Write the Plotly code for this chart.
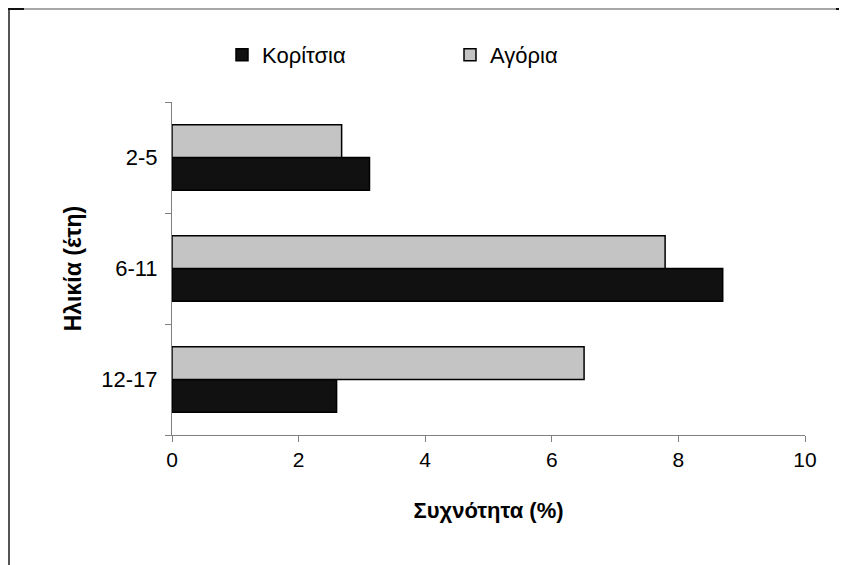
import plotly.graph_objects as go

categories = ["2-5", "6-11", "12-17"]
girls = [3.12, 8.70, 2.60]
boys = [2.68, 7.79, 6.51]
series_names = ["Κορίτσια", "Αγόρια"]
x_ticks = [0, 2, 4, 6, 8, 10]

FONT = "Liberation Sans, Arial, sans-serif"

fig = go.Figure()
fig.add_trace(go.Bar(
    y=categories, x=girls, orientation="h", name=series_names[0],
    marker=dict(color="#111111", line=dict(color="#000000", width=1.5)),
))
fig.add_trace(go.Bar(
    y=categories, x=boys, orientation="h", name=series_names[1],
    marker=dict(color="#c4c4c4", line=dict(color="#000000", width=1.5)),
))

# the page body adds an 8px offset; layout numbers below are page pixels
OFF = 8
W, H = 847, 565
L, T = 172 - OFF, 102 - OFF
R = W - (805 - OFF)
B = H - (435 - OFF)
pw, ph = W - L - R, H - T - B

def px(x):
    return (x - OFF - L) / pw

def py(y):
    return (H - B - (y - OFF)) / ph

fig.update_layout(
    width=W, height=H,
    margin=dict(l=L, r=R, t=T, b=B, autoexpand=False),
    paper_bgcolor="white", plot_bgcolor="white",
    barmode="group", bargap=0.41, bargroupgap=0,
    font=dict(family=FONT, size=20, color="#000000"),
    showlegend=True,
    legend=dict(
        orientation="h", x=px(222), y=py(55), xanchor="left", yanchor="middle",
        entrywidth=183, entrywidthmode="pixels", itemwidth=30,
        font=dict(size=22, family=FONT), bgcolor="rgba(0,0,0,0)",
    ),
    xaxis=dict(
        range=[0, 10], tickvals=x_ticks, ticks="outside", ticklen=6,
        tickcolor="#808080", showline=True, linecolor="#808080", linewidth=1,
        showgrid=False, zeroline=False, tickfont=dict(size=21),
        title=dict(text="<b>Συχνότητα (%)</b>", font=dict(size=22), standoff=32),
    ),
    yaxis=dict(
        categoryorder="array", categoryarray=categories[::-1],
        ticks="outside", ticklen=6, tickcolor="#808080", tickson="boundaries",
        showline=True, linecolor="#808080", linewidth=1, showgrid=False,
        tickfont=dict(size=22), ticklabelstandoff=9,
        title=dict(text="<b>Ηλικία (έτη)</b>", font=dict(size=23), standoff=13),
    ),
)

# outer frame lines of the original picture
fig.add_shape(type="line", xref="paper", yref="paper",
              x0=px(9), x1=px(9), y0=py(8), y1=py(575),
              line=dict(color="#555555", width=2))
fig.add_shape(type="line", xref="paper", yref="paper",
              x0=px(8), x1=px(860), y0=py(9), y1=py(9),
              line=dict(color="#a8a8a8", width=2))
fig.add_shape(type="line", xref="paper", yref="paper",
              x0=px(8), x1=px(24), y0=py(9), y1=py(9),
              line=dict(color="#111111", width=2))
fig.add_shape(type="line", xref="paper", yref="paper",
              x0=px(836), x1=px(860), y0=py(9), y1=py(9),
              line=dict(color="#111111", width=2))

fig.write_html("out.html")
